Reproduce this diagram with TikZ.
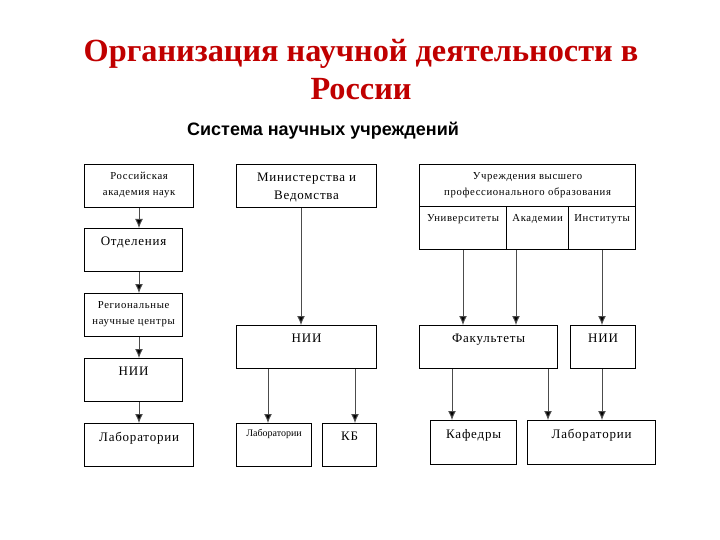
\documentclass[tikz,border=0pt]{standalone}
\usepackage{fontspec}
\setmainfont{Liberation Serif}
\newfontfamily\arialfont{Liberation Sans}
\newfontfamily\boxfont[LetterSpace=6]{Liberation Serif}
\usetikzlibrary{arrows.meta}
\definecolor{titlered}{RGB}{192,0,0}
\begin{document}
\begin{tikzpicture}[x=1pt,y=-1pt,
    box/.style={draw, line width=1.2pt, anchor=north west, inner sep=0pt, minimum height=43pt},
    intext/.style={anchor=north, align=center, inner sep=1pt},
    boxtext/.style={intext, yshift=-8pt, font=\boxfont\fontsize{13}{16}\selectfont},
    smalltext/.style={intext, yshift=-7pt, font=\boxfont\fontsize{10.7}{16}\selectfont},
    tinytext/.style={intext, yshift=-5pt, font=\fontsize{10}{12}\selectfont},
    link/.style={line width=1pt, draw=black!70, -{Latex[length=9pt,width=8pt,fill=black]}}]
  \useasboundingbox (0,0) rectangle (720,540);
  % Titles:
  \node[text=titlered, font=\bfseries\fontsize{32.3}{38}\selectfont, align=center] (title) at (361,70) {Организация научной деятельности в\\России};
  \node[font=\arialfont\bfseries\fontsize{18}{22}\selectfont] (subtitle) at (323,131) {Система научных учреждений};
  %
  % Academy column:
  \node[box, minimum width=109pt, label={[smalltext]north:Российская\\академия наук}] (ran) at (84,164) {};
  \node[box, minimum width=98pt, label={[boxtext]north:Отделения}] (otd) at (84,228) {};
  \node[box, minimum width=98pt, label={[smalltext]north:Региональные\\научные центры}] (rnc) at (84,293) {};
  \node[box, minimum width=98pt, label={[boxtext]north:НИИ}] (nii1) at (84,358) {};
  \node[box, minimum width=109pt, label={[boxtext]north:Лаборатории}] (lab1) at (84,423) {};
  % Ministry column:
  \node[box, minimum width=140pt, label={[boxtext, font=\boxfont\fontsize{13}{18}\selectfont]north:Министерства и\\Ведомства}] (min) at (236,164) {};
  \node[box, minimum width=140pt, label={[boxtext]north:НИИ}] (nii2) at (236,325) {};
  \node[box, minimum width=75pt, label={[tinytext]north:Лаборатории}] (lab2) at (236,423) {};
  \node[box, minimum width=54pt, label={[boxtext]north:КБ}] (kb) at (322,423) {};
  % Higher education column:
  \node[box, minimum width=216pt, minimum height=42pt, label={[smalltext]north:Учреждения высшего\\профессионального образования}] (vuz) at (419,164) {};
  \node[box, minimum width=87pt, label={[smalltext]north:Университеты}] (univ) at (419,206) {};
  \node[box, minimum width=62pt, label={[smalltext]north:Академии}] (acad) at (506,206) {};
  \node[box, minimum width=67pt, label={[smalltext]north:Институты}] (inst) at (568,206) {};
  \node[box, minimum width=138pt, label={[boxtext]north:Факультеты}] (fak) at (419,325) {};
  \node[box, minimum width=65pt, label={[boxtext]north:НИИ}] (nii3) at (570,325) {};
  \node[box, minimum width=86pt, minimum height=44pt, label={[boxtext]north:Кафедры}] (kaf) at (430,420) {};
  \node[box, minimum width=128pt, minimum height=44pt, label={[boxtext]north:Лаборатории}] (lab3) at (527,420) {};
  %
  % Links:
  \draw[link] (ran.south -| 139,0) -- (otd.north -| 139,0);
  \draw[link] (otd.south -| 139,0) -- (rnc.north -| 139,0);
  \draw[link] (rnc.south -| 139,0) -- (nii1.north -| 139,0);
  \draw[link] (nii1.south -| 139,0) -- (lab1.north -| 139,0);
  \draw[link] (min.south -| 301,0) -- (nii2.north -| 301,0);
  \draw[link] (nii2.south -| 268,0) -- (lab2.north -| 268,0);
  \draw[link] (nii2.south -| 355,0) -- (kb.north -| 355,0);
  \draw[link] (univ.south -| 463,0) -- (fak.north -| 463,0);
  \draw[link] (acad.south -| 516,0) -- (fak.north -| 516,0);
  \draw[link] (inst.south -| 602,0) -- (nii3.north -| 602,0);
  \draw[link] (fak.south -| 452,0) -- (kaf.north -| 452,0);
  \draw[link] (fak.south -| 548,0) -- (lab3.north -| 548,0);
  \draw[link] (nii3.south -| 602,0) -- (lab3.north -| 602,0);
\end{tikzpicture}
\end{document}
